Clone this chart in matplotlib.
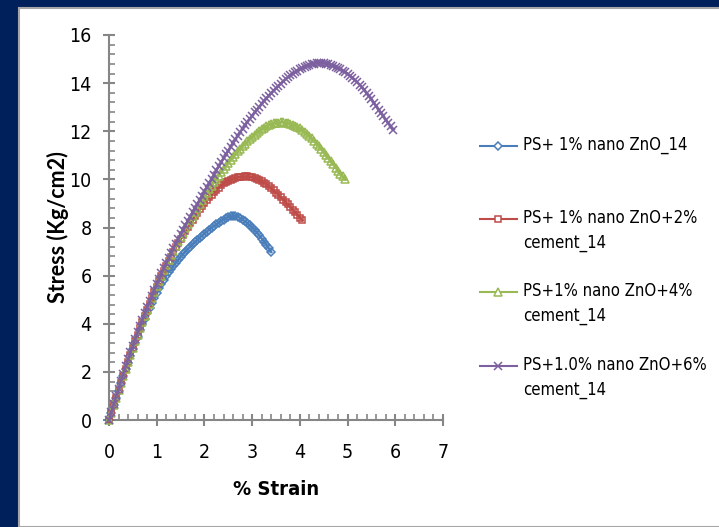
import matplotlib
matplotlib.use("Agg")
import matplotlib.pyplot as plt
from matplotlib.lines import Line2D
from matplotlib.patches import Rectangle
from matplotlib.ticker import MultipleLocator

# strain readings (%), shared by every series
strain = [
    0.00, 0.05, 0.10, 0.15, 0.20, 0.25, 0.30, 0.35, 0.40, 0.45,
    0.50, 0.55, 0.60, 0.65, 0.70, 0.75, 0.80, 0.85, 0.90, 0.95,
    1.00, 1.05, 1.10, 1.15, 1.20, 1.25, 1.30, 1.35, 1.40, 1.45,
    1.50, 1.55, 1.60, 1.65, 1.70, 1.75, 1.80, 1.85, 1.90, 1.95,
    2.00, 2.05, 2.10, 2.15, 2.20, 2.25, 2.30, 2.35, 2.40, 2.45,
    2.50, 2.55, 2.60, 2.65, 2.70, 2.75, 2.80, 2.85, 2.90, 2.95,
    3.00, 3.05, 3.10, 3.15, 3.20, 3.25, 3.30, 3.35, 3.40, 3.45,
    3.50, 3.55, 3.60, 3.65, 3.70, 3.75, 3.80, 3.85, 3.90, 3.95,
    4.00, 4.05, 4.10, 4.15, 4.20, 4.25, 4.30, 4.35, 4.40, 4.45,
    4.50, 4.55, 4.60, 4.65, 4.70, 4.75, 4.80, 4.85, 4.90, 4.95,
    5.00, 5.05, 5.10, 5.15, 5.20, 5.25, 5.30, 5.35, 5.40, 5.45,
    5.50, 5.55, 5.60, 5.65, 5.70, 5.75, 5.80, 5.85, 5.90, 5.95,
]

# stress (Kg/cm2)
stress_zno = [
    0.00, 0.31, 0.62, 0.92, 1.22, 1.52, 1.81, 2.10, 2.38, 2.66,
    2.93, 3.20, 3.46, 3.72, 3.97, 4.21, 4.44, 4.66, 4.88, 5.09,
    5.29, 5.48, 5.66, 5.83, 5.99, 6.14, 6.28, 6.41, 6.54, 6.66,
    6.78, 6.89, 7.00, 7.10, 7.20, 7.30, 7.39, 7.48, 7.57, 7.66,
    7.75, 7.83, 7.91, 7.99, 8.06, 8.13, 8.20, 8.27, 8.33, 8.39,
    8.44, 8.47, 8.48, 8.47, 8.44, 8.39, 8.33, 8.26, 8.18, 8.09,
    8.00, 7.90, 7.79, 7.67, 7.54, 7.41, 7.27, 7.13, 6.98,
]
stress_cem2 = [
    0.00, 0.31, 0.62, 0.93, 1.24, 1.54, 1.84, 2.14, 2.43, 2.72,
    3.00, 3.28, 3.55, 3.82, 4.08, 4.34, 4.59, 4.84, 5.08, 5.31,
    5.54, 5.76, 5.98, 6.19, 6.40, 6.60, 6.79, 6.98, 7.17, 7.35,
    7.52, 7.69, 7.86, 8.02, 8.17, 8.32, 8.47, 8.61, 8.75, 8.88,
    9.01, 9.13, 9.25, 9.36, 9.47, 9.57, 9.66, 9.75, 9.83, 9.90,
    9.95, 9.99, 10.02, 10.05, 10.08, 10.10, 10.11, 10.12, 10.12, 10.11,
    10.09, 10.06, 10.02, 9.97, 9.92, 9.86, 9.79, 9.71, 9.63, 9.54,
    9.45, 9.36, 9.26, 9.16, 9.06, 8.96, 8.85, 8.74, 8.63, 8.52,
    8.41, 8.30,
]
stress_cem4 = [
    0.00, 0.30, 0.61, 0.92, 1.23, 1.54, 1.84, 2.14, 2.43, 2.72,
    3.00, 3.28, 3.55, 3.82, 4.08, 4.34, 4.59, 4.84, 5.08, 5.32,
    5.55, 5.78, 6.00, 6.22, 6.43, 6.64, 6.84, 7.04, 7.23, 7.42,
    7.61, 7.79, 7.97, 8.15, 8.32, 8.49, 8.66, 8.82, 8.98, 9.14,
    9.29, 9.44, 9.59, 9.74, 9.88, 10.02, 10.16, 10.30, 10.43, 10.56,
    10.69, 10.81, 10.93, 11.05, 11.16, 11.27, 11.38, 11.48, 11.58, 11.68,
    11.77, 11.86, 11.94, 12.02, 12.09, 12.15, 12.21, 12.26, 12.30, 12.33,
    12.35, 12.36, 12.37, 12.37, 12.36, 12.34, 12.31, 12.27, 12.23, 12.18,
    12.12, 12.05, 11.97, 11.89, 11.80, 11.70, 11.60, 11.49, 11.38, 11.26,
    11.14, 11.01, 10.88, 10.75, 10.62, 10.49, 10.36, 10.24, 10.12, 10.00,
]
stress_cem6 = [
    0.00, 0.33, 0.66, 0.98, 1.30, 1.62, 1.93, 2.23, 2.52, 2.81,
    3.09, 3.37, 3.64, 3.91, 4.17, 4.43, 4.68, 4.93, 5.17, 5.41,
    5.64, 5.87, 6.09, 6.31, 6.52, 6.73, 6.93, 7.13, 7.33, 7.52,
    7.71, 7.90, 8.09, 8.27, 8.45, 8.63, 8.81, 8.98, 9.15, 9.32,
    9.50, 9.68, 9.86, 10.03, 10.20, 10.37, 10.54, 10.71, 10.88, 11.04,
    11.20, 11.36, 11.52, 11.67, 11.82, 11.97, 12.11, 12.25, 12.39, 12.52,
    12.65, 12.78, 12.90, 13.02, 13.14, 13.26, 13.37, 13.48, 13.59, 13.69,
    13.79, 13.89, 13.98, 14.07, 14.16, 14.24, 14.32, 14.39, 14.46, 14.52,
    14.58, 14.63, 14.68, 14.72, 14.76, 14.79, 14.81, 14.83, 14.84, 14.84,
    14.83, 14.81, 14.79, 14.76, 14.72, 14.68, 14.63, 14.58, 14.52, 14.46,
    14.39, 14.31, 14.23, 14.14, 14.04, 13.94, 13.83, 13.71, 13.58, 13.45,
    13.32, 13.18, 13.04, 12.90, 12.76, 12.62, 12.48, 12.34, 12.20, 12.06,
]

labels = [
    "PS+ 1% nano ZnO_14",
    "PS+ 1% nano ZnO+2%\ncement_14",
    "PS+1% nano ZnO+4%\ncement_14",
    "PS+1.0% nano ZnO+6%\ncement_14",
]
series = [stress_zno, stress_cem2, stress_cem4, stress_cem6]
colors = ["#4A7EBB", "#BE4B48", "#98B954", "#7D60A0"]
markers = ["D", "s", "^", "x"]
msizes = [4.5, 5, 5.5, 6]

narrow = dict(family="DejaVu Sans", stretch="condensed")
gray = "#868686"

fig = plt.figure(figsize=(7.19, 5.27), dpi=100)
fig.patch.set_facecolor("#00205C")
fig.add_artist(Rectangle((19 / 719, 0), 1, (527 - 8) / 527, transform=fig.transFigure,
                         facecolor="white", edgecolor="#A6A6A6", linewidth=1.5,
                         zorder=-10))

ax = fig.add_axes([109 / 719, 107 / 527, 334 / 719, 385 / 527])
ax.set_facecolor("none")

for ys, c, m, ms in zip(series, colors, markers, msizes):
    ax.plot(strain[:len(ys)], ys, color=c, lw=1.8, marker=m, markersize=ms,
            markerfacecolor="none", markeredgecolor=c, markeredgewidth=1.1,
            clip_on=False, zorder=3)

ax.set_xlim(0, 7)
ax.set_ylim(0, 16)
ax.xaxis.set_major_locator(MultipleLocator(1))
ax.xaxis.set_minor_locator(MultipleLocator(0.2))
ax.yaxis.set_major_locator(MultipleLocator(2))
ax.yaxis.set_minor_locator(MultipleLocator(0.4))
for s in ["top", "right"]:
    ax.spines[s].set_visible(False)
for s in ["left", "bottom"]:
    ax.spines[s].set_color(gray)
    ax.spines[s].set_linewidth(1.5)
ax.tick_params(which="major", direction="inout", length=9, width=1.5, color=gray,
               labelsize=14)
ax.tick_params(axis="x", which="major", pad=12)
ax.tick_params(axis="y", which="major", pad=8)
ax.tick_params(which="minor", direction="in", length=4, width=1.2, color=gray)
for t in ax.get_xticklabels() + ax.get_yticklabels():
    t.set_fontstretch("condensed")

ax.set_xlabel("% Strain", fontsize=14.5, fontweight="bold", labelpad=13, **narrow)
ax.set_ylabel("Stress (Kg/cm2)", family="Lato", fontsize=15.5,
              fontweight="bold", labelpad=0)

# legend, marker aligned with the first text line as in the original
leg_y = [146, 219, 292, 366]
for lab, c, m, ms, yy in zip(labels, colors, markers, msizes, leg_y):
    yf = 1 - yy / 527
    fig.add_artist(Line2D([480 / 719, 517 / 719], [yf, yf], transform=fig.transFigure,
                          color=c, lw=1.5))
    fig.add_artist(Line2D([498 / 719], [yf], transform=fig.transFigure, color=c,
                          marker=m, markersize=ms, markerfacecolor="white",
                          markeredgecolor=c, markeredgewidth=1.1))
    fig.text(523 / 719, yf + 0.019, lab, fontsize=12, va="top", ha="left",
             linespacing=1.5, **narrow)

fig.savefig("out.png", dpi=100, facecolor=fig.get_facecolor())
